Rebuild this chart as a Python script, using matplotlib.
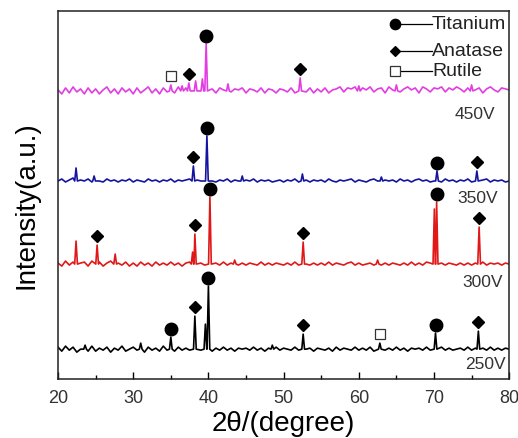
import numpy as np
import matplotlib.pyplot as plt

plt.rcParams['font.family'] = ['Liberation Sans', 'DejaVu Sans']

# 2theta sampling grid of the background (0.5 deg step, 20..80)
two_theta = np.arange(20, 80.01, 0.5)

# background wiggle (a.u.)
noise_250 = [
    2, -2, 3, -1, 2, -3, 0, 2, -2, 3,
    -2, 1, -1, 2, -3, 1, -1, 3, -2, 0,
    2, -1, 1, -3, 2, -1, 1, -2, 3, -1,
    0, -2, 2, -1, 1, -1, -3, -2, -1, 0,
    0, -2, 1, -1, 2, -1, 1, -2, 1, 0,
    1, -1, 2, -1, 1, -2, 1, -1, 2, -1,
    1, 0, -1, 2, -1, 1, 0, 1, -2, 1,
    0, -1, 1, -2, 2, -1, 1, 0, -1, 2,
    -1, 1, -1, 2, -2, 1, 0, -1, 1, -1,
    2, -1, 1, -2, 1, 0, 1, -1, 2, -1,
    1, -2, 2, -1, 1, -1, 0, 1, -1, 2,
    -1, 1, -2, 1, -1, 2, -1, 1, -1, 1,
    0]
noise_300 = [
    1, -2, 3, -1, 2, -3, 1, 2, -2, 3,
    -1, 2, -2, 1, 3, -2, 1, -1, 2, -2,
    1, -2, 2, -1, 1, -2, 2, -1, 1, -1,
    2, -1, 1, -2, 1, 2, 3, 2, 1, -1,
    0, -1, 1, -1, 2, -1, 1, 0, -1, 1,
    -1, 1, 0, -1, 2, -1, 1, -1, 1, 0,
    -1, 1, -1, 2, -1, 1, 0, -1, 1, -1,
    1, -1, 2, -1, 1, 0, -1, 1, 2, -1,
    1, -1, 0, 1, -1, 2, -1, 1, -1, 1,
    0, -1, 1, -1, 2, -1, 1, -1, 2, 1,
    0, -1, 1, -1, 1, 0, -1, 1, -1, 1,
    -1, 1, 0, 2, -1, 1, 0, 1, -1, 1,
    0]
noise_350 = [
    0, 2, -1, 1, 3, -1, 1, 0, 2, -1,
    1, 0, -1, 2, 0, 1, -1, 1, 0, 2,
    -1, 1, 0, -1, 2, 0, 1, -1, 1, 0,
    2, -1, 1, 0, 1, 2, 3, 1, 0, -1,
    1, 0, -1, 1, 0, 2, -1, 1, 0, -1,
    1, 0, 2, -1, 1, 0, 1, -1, 0, 1,
    -1, 1, 0, 2, -1, 0, 1, -1, 1, 0,
    1, -1, 2, 0, -1, 1, 0, 1, 2, -1,
    1, 0, -1, 1, 2, 0, -1, 1, 0, 1,
    -1, 2, 0, 1, -1, 1, 2, 0, 1, -1,
    0, 1, -1, 2, 0, 1, -1, 1, 0, 2,
    -1, 1, 0, 1, 2, -1, 1, 0, 1, -1,
    0]
noise_450 = [
    1, -3, 3, -2, 4, -1, 2, -3, 3, -2,
    2, -3, 1, 4, -2, 2, -3, 3, -1, 2,
    -3, 3, -2, 1, 4, -2, 2, -3, 3, -1,
    2, -2, 4, -1, 3, 2, 1, 4, 5, 3,
    -1, 2, -2, 3, 1, 4, -1, 2, 1, 3,
    -2, 2, 1, -1, 3, -2, 2, 1, -2, 2,
    1, -1, 3, -2, 1, 2, -1, 3, -2, 2,
    -1, 3, -2, 1, 2, 4, -1, 3, 2, 4,
    -2, 3, 1, 4, -1, 2, 3, -2, 4, 1,
    3, -1, 2, 4, 1, 3, -2, 4, 2, -1,
    3, 2, 4, -1, 3, 1, 4, 2, -1, 3,
    4, 1, 3, -2, 2, 4, 1, -1, 3, 2,
    1]

# peaks: (2theta, height above background)
peaks_250 = [(23.6, 4), (31.0, 6), (35.0, 12), (38.2, 33), (39.6, 25), (40.0, 63),
             (48.5, 4), (52.6, 15), (62.8, 6), (70.2, 16), (75.9, 18)]
peaks_300 = [(22.4, 23), (25.2, 19), (27.6, 10), (37.9, 12), (38.2, 30), (40.2, 67),
             (43.5, 4), (52.6, 22), (62.5, 4), (70.05, 55), (70.35, 62), (76.0, 37)]
peaks_350 = [(22.4, 13), (24.8, 5), (38.0, 15), (39.8, 45), (44.5, 5), (52.5, 7),
             (63.0, 4), (70.4, 10), (75.7, 10)]
peaks_450 = [(35.0, 6), (36.5, 5), (37.4, 8), (38.3, 10), (39.2, 12), (39.7, 47),
             (42.6, 7), (52.2, 13), (60.0, 5), (65.0, 6), (75.0, 6)]

voltages = ['250V', '300V', '350V', '450V']
colors = ['#000000', '#e01818', '#1414a0', '#e23ce2']
offsets = [30, 115, 198, 288]

# phase marks: (pattern index, 2theta)
titanium_marks = [(0, 35.0), (0, 40.0), (0, 70.2), (1, 40.2), (1, 70.35), (2, 39.8), (2, 70.4), (3, 39.7)]
anatase_marks = [(0, 38.2), (0, 52.6), (0, 75.9), (1, 25.2), (1, 38.2), (1, 52.6), (1, 76.0),
                 (2, 38.0), (2, 75.7), (3, 37.4), (3, 52.2)]
rutile_marks = [(0, 62.8), (3, 35.0)]


def build_trace(noise, peaks, w=0.18):
    pts = [(x, y) for x, y in zip(two_theta, noise)
           if all(abs(x - p) > 0.3 for p, _ in peaks)]
    for p, h in peaks:
        pts += [(p - w, 0), (p, h), (p + w, 0)]
    pts.sort()
    return np.array([p[0] for p in pts]), np.array([p[1] for p in pts])


all_noise = [noise_250, noise_300, noise_350, noise_450]
all_peaks = [peaks_250, peaks_300, peaks_350, peaks_450]

fig = plt.figure(figsize=(5.18, 4.39), dpi=100)
ax = fig.add_axes([0.112, 0.134, 0.871, 0.839])

for noise, peaks, off, c in zip(all_noise, all_peaks, offsets, colors):
    x, y = build_trace(noise, peaks)
    ax.plot(x, y + off, color=c, lw=1.2)


def mark_y(idx, pos, gap=9):
    h = dict(all_peaks[idx])[pos]
    return offsets[idx] + h + gap


for idx, pos in titanium_marks:
    ax.plot(pos, mark_y(idx, pos, 8), 'o', color='black', ms=9)
for idx, pos in anatase_marks:
    ax.plot(pos, mark_y(idx, pos), 'D', color='black', ms=6)
for idx, pos in rutile_marks:
    ax.plot(pos, mark_y(idx, pos), 's', mfc='white', mec='#333333', mew=0.9, ms=7)

# voltage labels
label_y = [16, 98, 182, 265]
label_x = [79.6, 79.2, 78.5, 78.2]
for v, lx, ly in zip(voltages, label_x, label_y):
    ax.text(lx, ly, v, ha='right', va='center', fontsize=12.5, color='#333333')

# phase legend drawn in the upper right corner
legend_items = [('o', 7.5, 'black', 'Titanium'), ('D', 5.5, 'black', 'Anatase'), ('s', 6.5, 'white', 'Rutile')]
legend_y = [0.965, 0.891, 0.837]
for (m, ms, fc, name), ly in zip(legend_items, legend_y):
    ax.plot([0.747, 0.829], [ly, ly], color='black', lw=0.9, transform=ax.transAxes)
    ax.plot(0.747, ly, m, ms=ms, mfc=fc, mec='black' if fc == 'black' else '#333333',
            mew=0.9, transform=ax.transAxes)
    ax.text(0.829, ly, name, transform=ax.transAxes, ha='left', va='center',
            fontsize=14, color='#222222')

ax.set_xlim(20, 80)
ax.set_ylim(0, 368)
ax.set_xticks([20, 30, 40, 50, 60, 70, 80])
ax.set_xticks([25, 35, 45, 55, 65, 75], minor=True)
ax.set_yticks([])
ax.tick_params(axis='x', which='major', direction='in', length=5, width=1, labelsize=13,
               labelcolor='#333333', pad=7)
ax.tick_params(axis='x', which='minor', direction='in', length=3, width=1)
for s in ax.spines.values():
    s.set_linewidth(1.1)
    s.set_color('#222222')

ax.set_xlabel('2θ/(degree)', fontsize=20, labelpad=3)
ax.set_ylabel('Intensity(a.u.)', fontsize=20)
ax.yaxis.set_label_coords(-0.042, 0.476)

fig.savefig('out.png', dpi=100)
